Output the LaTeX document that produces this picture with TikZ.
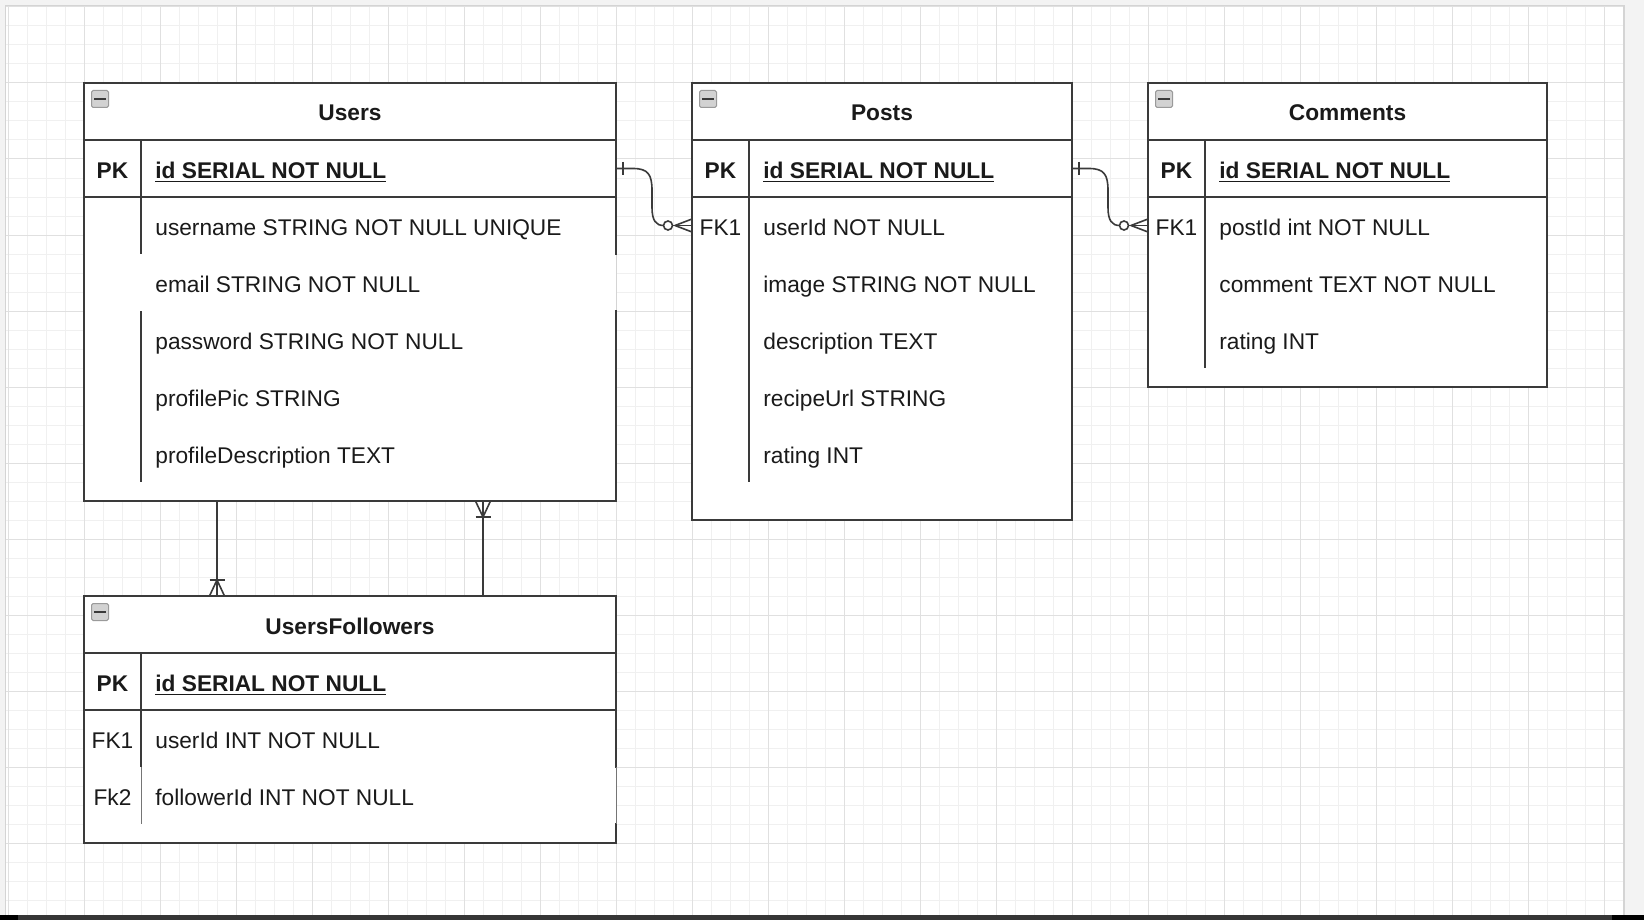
\documentclass[tikz,border=0pt]{standalone}
\usepackage{fontspec}
\setmainfont{Liberation Sans}
\usetikzlibrary{calc}
\definecolor{lc}{HTML}{3A3A3A}
\definecolor{tc}{HTML}{1A1A1A}
\definecolor{minorg}{HTML}{F0F0F0}
\definecolor{majorg}{HTML}{E0E0E0}
\definecolor{outerg}{HTML}{F3F3F3}
\definecolor{edgeg}{HTML}{D4D4D4}
\definecolor{iconf}{HTML}{D2D2D2}
\definecolor{icond}{HTML}{9A9A9A}
\definecolor{barc}{HTML}{363636}
\newcommand{\fsz}{\fontsize{11.35pt}{13pt}\selectfont}
\begin{document}
\begin{tikzpicture}[x=0.5pt,y=-0.5pt,
  tbl/.style={draw=lc, line width=1pt, fill=white, inner sep=0pt, outer sep=0pt, anchor=north west},
  sepline/.style={draw=lc, line width=1pt},
  faintline/.style={draw=edgeg, line width=0.5pt},
  title/.style={font=\fsz\bfseries, text=tc, inner sep=0pt, text height=9.5pt, text depth=0pt},
  keylbl/.style={font=\fsz, text=tc, inner sep=0pt, text height=9.5pt, text depth=0pt},
  fld/.style={font=\fsz, text=tc, inner sep=0pt, text height=9.5pt, text depth=0pt, anchor=west},
  icon/.style={draw=icond, fill=iconf, line width=0.5pt, rounded corners=0.8pt, minimum size=8.5pt, inner sep=0pt, text=lc},
  rel/.style={draw=lc, line width=0.8pt},
  minorl/.style={draw=minorg, line width=0.5pt},
  majorl/.style={draw=majorg, line width=0.5pt}
]
\useasboundingbox (0,0) rectangle (1644,920);
% background
\fill[outerg] (0,0) rectangle (1644,920);
\fill[white] (6,6) rectangle (1623,915);
\foreach \i in {0,...,84} { \pgfmathsetmacro\xx{8+19*\i} \draw[minorl] (\xx,6) -- (\xx,915); }
\foreach \i in {0,...,47} { \pgfmathsetmacro\yy{7+19*\i} \draw[minorl] (6,\yy) -- (1623,\yy); }
\foreach \i in {0,...,21} { \pgfmathsetmacro\xx{8+76*\i} \draw[majorl] (\xx,6) -- (\xx,915); }
\foreach \i in {0,...,11} { \pgfmathsetmacro\yy{7+76*\i} \draw[majorl] (6,\yy) -- (1623,\yy); }
\draw[edgeg, line width=0.6pt] (5.5,915) -- (5.5,5.5) -- (1623,5.5);
\draw[edgeg, line width=0.8pt] (1624,5.5) -- (1624,915);
\fill[barc] (0,915) rectangle (1644,920);
\fill[black] (0,915) rectangle (18,920);
\fill[black] (1612,915) rectangle (1644,920);

% ---------------- Users
\node[tbl, minimum width=266pt, minimum height=209pt] (users) at (84,83) {};
\draw[sepline] (84,140) -- (616,140);
\draw[sepline] (84,197) -- (616,197);
\draw[sepline] (141,140) -- (141,254);
\draw[sepline] (141,311) -- (141,482);
\draw[white, line width=1.4pt] (616,255) -- (616,310);
\draw[faintline] (616,255) -- (616,310);
\node[icon] (usersIcon) at (100,99) {\rule{5.6pt}{1.4pt}};
\node[title] (usersTitle) at (350,111.5) {Users};
\node[keylbl, font=\fsz\bfseries] (usersK0) at (112.5,168.5) {PK};
\node[fld, font=\fsz\bfseries] (usersPK) at (155,168.5) {\underline{id SERIAL NOT NULL}};
\node[fld] (usersF1) at (155,225.5) {username STRING NOT NULL UNIQUE};
\node[fld] (usersF2) at (155,282.5) {email STRING NOT NULL};
\node[fld] (usersF3) at (155,339.5) {password STRING NOT NULL};
\node[fld] (usersF4) at (155,396.5) {profilePic STRING};
\node[fld] (usersF5) at (155,453.5) {profileDescription TEXT};

% ---------------- Posts
\node[tbl, minimum width=190pt, minimum height=218.5pt] (posts) at (692,83) {};
\draw[sepline] (692,140) -- (1072,140);
\draw[sepline] (692,197) -- (1072,197);
\draw[sepline] (749,140) -- (749,482);
\node[icon] (postsIcon) at (708,99) {\rule{5.6pt}{1.4pt}};
\node[title] (postsTitle) at (882,111.5) {Posts};
\node[keylbl, font=\fsz\bfseries] (postsK0) at (720.5,168.5) {PK};
\node[fld, font=\fsz\bfseries] (postsPK) at (763,168.5) {\underline{id SERIAL NOT NULL}};
\node[keylbl] (postsK1) at (720.5,225.5) {FK1};
\node[fld] (postsF1) at (763,225.5) {userId NOT NULL};
\node[fld] (postsF2) at (763,282.5) {image STRING NOT NULL};
\node[fld] (postsF3) at (763,339.5) {description TEXT};
\node[fld] (postsF4) at (763,396.5) {recipeUrl STRING};
\node[fld] (postsF5) at (763,453.5) {rating INT};

% ---------------- Comments
\node[tbl, minimum width=199.5pt, minimum height=152pt] (comments) at (1148,83) {};
\draw[sepline] (1148,140) -- (1547,140);
\draw[sepline] (1148,197) -- (1547,197);
\draw[sepline] (1205,140) -- (1205,368);
\node[icon] (commentsIcon) at (1164,99) {\rule{5.6pt}{1.4pt}};
\node[title] (commentsTitle) at (1347.5,111.5) {Comments};
\node[keylbl, font=\fsz\bfseries] (commentsK0) at (1176.5,168.5) {PK};
\node[fld, font=\fsz\bfseries] (commentsPK) at (1219,168.5) {\underline{id SERIAL NOT NULL}};
\node[keylbl] (commentsK1) at (1176.5,225.5) {FK1};
\node[fld] (commentsF1) at (1219,225.5) {postId int NOT NULL};
\node[fld] (commentsF2) at (1219,282.5) {comment TEXT NOT NULL};
\node[fld] (commentsF3) at (1219,339.5) {rating INT};

% ---------------- UsersFollowers
\node[tbl, minimum width=266pt, minimum height=123.5pt] (uf) at (84,596) {};
\draw[sepline] (84,653) -- (616,653);
\draw[sepline] (84,710) -- (616,710);
\draw[sepline] (141,653) -- (141,767);
\draw[white, line width=1.4pt] (616,768) -- (616,823);
\draw[lc!70, line width=0.5pt] (616,767) -- (616,824);
\draw[lc!70, line width=0.5pt] (141,767) -- (141,824);
\node[icon] (ufIcon) at (100,612) {\rule{5.6pt}{1.4pt}};
\node[title] (ufTitle) at (350,624.5) {UsersFollowers};
\node[keylbl, font=\fsz\bfseries] (ufK0) at (112.5,681.5) {PK};
\node[fld, font=\fsz\bfseries] (ufPK) at (155,681.5) {\underline{id SERIAL NOT NULL}};
\node[keylbl] (ufK1) at (112.5,738.5) {FK1};
\node[fld] (ufF1) at (155,738.5) {userId INT NOT NULL};
\node[keylbl] (ufK2) at (112.5,795.5) {Fk2};
\node[fld] (ufF2) at (155,795.5) {followerId INT NOT NULL};

% ---------------- relationships (one -> zero-or-many)
\coordinate (S1) at (users.east |- usersPK.west);
\coordinate (E1) at (posts.west |- postsF1.west);
\coordinate (S2) at (posts.east |- postsPK.west);
\coordinate (E2) at (comments.west |- commentsF1.west);
\foreach \s/\e in {S1/E1, S2/E2} {
  \draw[rel] (\s) -- ($(\s)+(17,0)$)
     .. controls ($(\s)+(32,0)$) and ($(\s)+(36,6)$) .. ($(\s)+(36,22)$)
     -- ($(\e)+(-40,-18)$)
     .. controls ($(\e)+(-40,-5)$) and ($(\e)+(-36,0)$) .. ($(\e)+(-28.5,0)$);
  \draw[rel] ($(\s)+(7,-6.5)$) -- ($(\s)+(7,6.5)$);
  \draw[rel, fill=white] ($(\e)+(-24,0)$) circle[radius=4.5];
  \draw[rel] ($(\e)+(-19.5,0)$) -- (\e);
  \draw[rel] ($(\e)+(-17,0)$) -- ($(\e)+(0,-6.5)$);
  \draw[rel] ($(\e)+(-17,0)$) -- ($(\e)+(0,6.5)$);
}

% ---------------- Users <-> UsersFollowers (one-or-many)
\coordinate (S3) at ($(users.south west)+(133,0)$);
\coordinate (E3) at (S3 |- uf.north);
\draw[rel] (S3) -- (E3);
\draw[rel] ($(E3)+(0,-16)$) -- ($(E3)+(-7.5,0)$);
\draw[rel] ($(E3)+(0,-16)$) -- ($(E3)+(7.5,0)$);
\draw[rel] ($(E3)+(-7.5,-16)$) -- ($(E3)+(7.5,-16)$);

\coordinate (S4) at ($(uf.north west)+(399,0)$);
\coordinate (E4) at (S4 |- users.south);
\draw[rel] (S4) -- (E4);
\draw[rel] ($(E4)+(0,16)$) -- ($(E4)+(-7.5,0)$);
\draw[rel] ($(E4)+(0,16)$) -- ($(E4)+(7.5,0)$);
\draw[rel] ($(E4)+(-7.5,16)$) -- ($(E4)+(7.5,16)$);
\end{tikzpicture}
\end{document}
